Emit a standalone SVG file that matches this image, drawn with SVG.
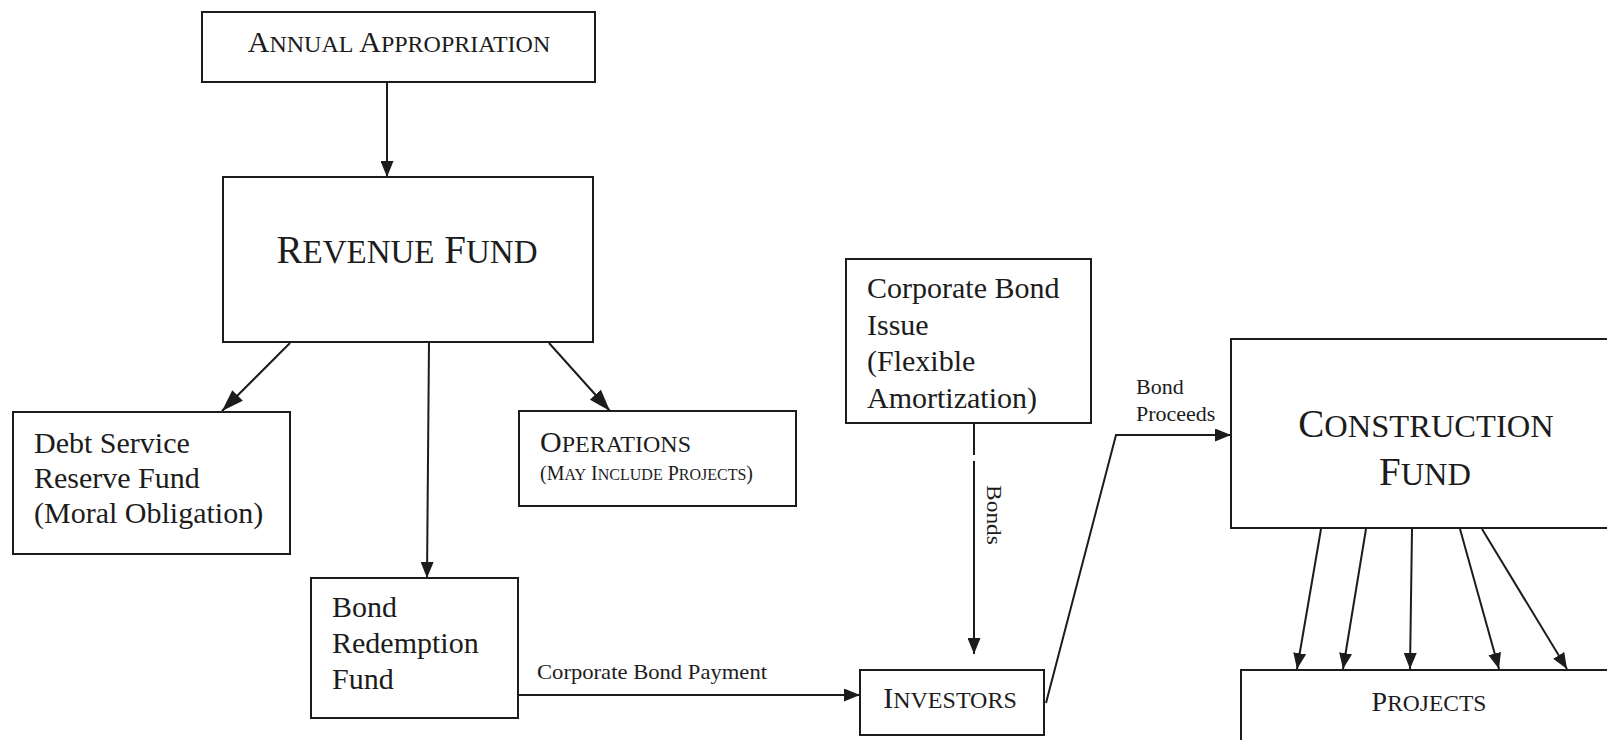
<svg xmlns="http://www.w3.org/2000/svg" width="1607" height="740" viewBox="0 0 1607 740">
  <style>
    .box { fill: #ffffff; stroke: #1c1c1c; stroke-width: 2; }
    .txt { font-family: "Liberation Serif", "Times New Roman", serif; fill: #1c1c1c; }
    .body { font-size: 30px; }
    .lbl { font-size: 21px; }
    .conn { fill: none; stroke: #1c1c1c; stroke-width: 2; }
    .arr { marker-end: url(#ah); }
    .arrL { marker-end: url(#ahL); }
  </style>
  <defs>
    <marker id="ah" viewBox="0 0 16 13" refX="16" refY="6.5" markerWidth="16" markerHeight="13" markerUnits="userSpaceOnUse" orient="auto">
      <path d="M0,0 L16,6.5 L0,13 Z" fill="#1c1c1c"/>
    </marker>
    <marker id="ahL" viewBox="0 0 22 15" refX="22" refY="7.5" markerWidth="22" markerHeight="15" markerUnits="userSpaceOnUse" orient="auto">
      <path d="M0,0 L22,7.5 L0,15 Z" fill="#1c1c1c"/>
    </marker>
  </defs>

  <rect width="1607" height="740" fill="#ffffff"/>

  <!-- connectors -->
  <g id="connectors">
    <path class="conn arr" d="M387,82 L387,177"/>
    <path class="conn arrL" d="M290,343 L222,411"/>
    <path class="conn arrL" d="M549,343 L610,411"/>
    <path class="conn arr" d="M429,342 L427,578"/>
    <path class="conn arr" d="M518,695 L860,695"/>
    <path class="conn" d="M974,424 L974,455"/>
    <path class="conn arr" d="M974,461 L974,654"/>
    <path class="conn arr" d="M1046,703 L1116,435 L1231,435"/>
    <path class="conn arr" d="M1321,529 L1297,669"/>
    <path class="conn arr" d="M1366,529 L1343,669"/>
    <path class="conn arr" d="M1412,529 L1410,669"/>
    <path class="conn arr" d="M1460,529 L1499,669"/>
    <path class="conn arr" d="M1482,529 L1567,669"/>

    <text class="txt lbl" x="537" y="679" textLength="230" lengthAdjust="spacingAndGlyphs">Corporate Bond Payment</text>
    <text class="txt" font-size="22" transform="translate(987,485) rotate(90)" textLength="60" lengthAdjust="spacingAndGlyphs">Bonds</text>
    <text class="txt" font-size="22" x="1136" y="394">Bond</text>
    <text class="txt" font-size="22" x="1136" y="421">Proceeds</text>
  </g>

  <!-- nodes -->
  <g id="annual-appropriation">
    <rect class="box" x="202" y="12" width="393" height="70"/>
    <text class="txt" x="399" y="52" text-anchor="middle"><tspan font-size="30">A</tspan><tspan font-size="24">NNUAL</tspan><tspan font-size="30"> A</tspan><tspan font-size="24">PPROPRIATION</tspan></text>
  </g>

  <g id="revenue-fund">
    <rect class="box" x="223" y="177" width="370" height="165"/>
    <text class="txt" x="407" y="263" text-anchor="middle"><tspan font-size="39">R</tspan><tspan font-size="33">EVENUE</tspan><tspan font-size="39"> F</tspan><tspan font-size="33">UND</tspan></text>
  </g>

  <g id="debt-service-reserve-fund">
    <rect class="box" x="13" y="412" width="277" height="142"/>
    <text class="txt body" x="34" y="453">Debt Service</text>
    <text class="txt body" x="34" y="488">Reserve Fund</text>
    <text class="txt body" x="34" y="523">(Moral Obligation)</text>
  </g>

  <g id="operations">
    <rect class="box" x="519" y="411" width="277" height="95"/>
    <text class="txt" x="540" y="452"><tspan font-size="30">O</tspan><tspan font-size="24">PERATIONS</tspan></text>
    <text class="txt" x="540" y="480"><tspan font-size="20">(M</tspan><tspan font-size="16">AY</tspan><tspan font-size="20"> I</tspan><tspan font-size="16">NCLUDE</tspan><tspan font-size="20"> P</tspan><tspan font-size="16">ROJECTS</tspan><tspan font-size="20">)</tspan></text>
  </g>

  <g id="bond-redemption-fund">
    <rect class="box" x="311" y="578" width="207" height="140"/>
    <text class="txt body" x="332" y="617">Bond</text>
    <text class="txt body" x="332" y="653">Redemption</text>
    <text class="txt body" x="332" y="689">Fund</text>
  </g>

  <g id="corporate-bond-issue">
    <rect class="box" x="846" y="259" width="245" height="164"/>
    <text class="txt body" x="867" y="298">Corporate Bond</text>
    <text class="txt body" x="867" y="334.5">Issue</text>
    <text class="txt body" x="867" y="371">(Flexible</text>
    <text class="txt body" x="867" y="407.5">Amortization)</text>
  </g>

  <g id="investors">
    <rect class="box" x="860" y="670" width="184" height="65"/>
    <text class="txt" x="950" y="708" text-anchor="middle"><tspan font-size="30">I</tspan><tspan font-size="24">NVESTORS</tspan></text>
  </g>

  <g id="construction-fund">
    <rect class="box" x="1231" y="339" width="400" height="189"/>
    <text class="txt" x="1426" y="437" text-anchor="middle"><tspan font-size="39">C</tspan><tspan font-size="32.5">ONSTRUCTION</tspan></text>
    <text class="txt" x="1425" y="485" text-anchor="middle"><tspan font-size="39">F</tspan><tspan font-size="32.5">UND</tspan></text>
  </g>

  <g id="projects">
    <rect class="box" x="1241" y="670" width="400" height="100"/>
    <text class="txt" x="1429" y="711" text-anchor="middle"><tspan font-size="28">P</tspan><tspan font-size="23.5">ROJECTS</tspan></text>
  </g>
</svg>
